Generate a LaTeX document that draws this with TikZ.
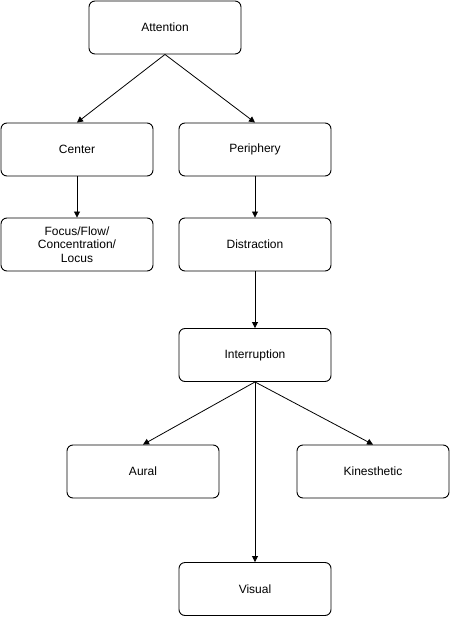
\documentclass[tikz,border=0pt]{standalone}
\usepackage{fontspec}
\setmainfont{Liberation Sans}
\usetikzlibrary{arrows.meta}
\begin{document}
\begin{tikzpicture}[x=1pt,y=-1pt,
  box/.style={draw, line width=0.9pt, rounded corners=6pt, minimum width=152pt, minimum height=53pt, inner sep=0pt, align=center, font=\fontsize{12}{13.5}\selectfont},
  conn/.style={draw, line width=0.8pt, -{Triangle[length=6pt,width=6pt]}}]
\useasboundingbox (0,0) rectangle (451,617);
\node[box] (att) at (165,27.5) {Attention};
\node[box] (cen) at (77,149.5) {Center};
\node[box] (per) at (255,149.5) {Periphery};
\node[box] (foc) at (77,244.5) {Focus/Flow/\\Concentration/\\Locus};
\node[box] (dis) at (255,244.5) {Distraction};
\node[box] (int) at (255,355) {Interruption};
\node[box] (aur) at (143,471.5) {Aural};
\node[box] (kin) at (373,471.5) {Kinesthetic};
\node[box] (vis) at (255,589) {Visual};
\draw[conn] (att.south) -- (cen.north);
\draw[conn] (att.south) -- (per.north);
\draw[conn] (cen.south) -- (foc.north);
\draw[conn] (per.south) -- (dis.north);
\draw[conn] (dis.south) -- (int.north);
\draw[conn] (int.south) -- (aur.north);
\draw[conn] (int.south) -- (kin.north);
\draw[conn] (int.south) -- (vis.north);
\end{tikzpicture}
\end{document}
